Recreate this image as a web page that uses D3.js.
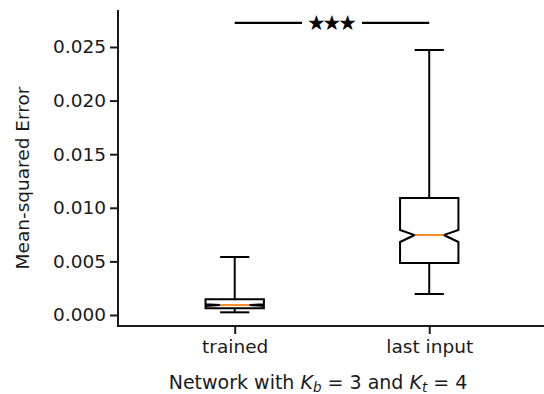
<!DOCTYPE html>
<html>
<head>
<meta charset="utf-8">
<style>
  body { margin: 0; background: white; }
  text { font-family: "DejaVu Sans", sans-serif; fill: #1a1a1a; }
</style>
</head>
<body>
<div id="chart"></div>
<script src="https://d3js.org/d3.v7.min.js"></script>
<script>
// box summaries
const categories = ["trained", "last input"];
const whiskerLow = [0.00025, 0.00196];
const q1 = [0.00062, 0.00485];
const median = [0.00093, 0.00746];
const q3 = [0.00146, 0.01091];
const whiskerHigh = [0.00541, 0.02472];
const notchLow = [0.00085, 0.00681];
const notchHigh = [0.00101, 0.00793];
const yTicks = [0, 0.005, 0.010, 0.015, 0.020, 0.025];
const sigLabel = "★★★";
const sigLevel = 0.02724;

const width = 544, height = 394;
const ink = "#1a1a1a";
const lw = 2;

const svg = d3.select("#chart").append("svg")
  .attr("width", width)
  .attr("height", height);

const x = d3.scaleLinear().domain([0.4, 2.59]).range([118, 544]);
const y = d3.scaleLinear().domain([-0.001026, 0.02845]).range([326, 10]);

// axes
const yAxis = d3.axisLeft(y).tickValues(yTicks).tickFormat(d3.format(".3f"))
  .tickSizeOuter(0).tickSize(8).tickPadding(4);
const xAxis = d3.axisBottom(x).tickValues([1, 2]).tickFormat((d) => categories[d - 1])
  .tickSizeOuter(0).tickSize(8).tickPadding(6);

const gy = svg.append("g").attr("transform", "translate(118,0)").call(yAxis);
const gx = svg.append("g").attr("transform", "translate(0,326)").call(xAxis);

[gx, gy].forEach((g) => {
  g.select(".domain").remove();
  g.selectAll(".tick line").attr("stroke", ink).attr("stroke-width", lw);
  g.selectAll(".tick text").attr("font-size", 18.5).attr("fill", ink)
    .style("font-family", "DejaVu Sans");
});

// spines
svg.append("path")
  .attr("d", `M${x.range()[0]},${y.range()[1]}V${y.range()[0]}H${x.range()[1]}`)
  .attr("fill", "none").attr("stroke", ink).attr("stroke-width", lw);

// boxes
const half = 0.15;
categories.forEach((c, i) => {
  const cx = i + 1;
  const L = x(cx - half), R = x(cx + half);
  const inset = (R - L) / 4;
  const g = svg.append("g");

  // whiskers
  g.append("line").attr("x1", x(cx)).attr("x2", x(cx))
    .attr("y1", y(q1[i])).attr("y2", y(whiskerLow[i]))
    .attr("stroke", "black").attr("stroke-width", lw);
  g.append("line").attr("x1", x(cx)).attr("x2", x(cx))
    .attr("y1", y(q3[i])).attr("y2", y(whiskerHigh[i]))
    .attr("stroke", "black").attr("stroke-width", lw);
  [whiskerLow[i], whiskerHigh[i]].forEach((v) => {
    g.append("line").attr("x1", x(cx - half / 2)).attr("x2", x(cx + half / 2))
      .attr("y1", y(v)).attr("y2", y(v))
      .attr("stroke", "black").attr("stroke-width", lw);
  });

  // notched box outline
  const pts = [
    [L, y(q1[i])], [R, y(q1[i])], [R, y(notchLow[i])], [R - inset, y(median[i])],
    [R, y(notchHigh[i])], [R, y(q3[i])], [L, y(q3[i])], [L, y(notchHigh[i])],
    [L + inset, y(median[i])], [L, y(notchLow[i])]
  ];
  g.append("path").attr("d", d3.line()(pts) + "Z")
    .attr("fill", "none").attr("stroke", "black").attr("stroke-width", lw)
    .attr("stroke-linejoin", "miter");

  g.append("line").attr("x1", L + inset).attr("x2", R - inset)
    .attr("y1", y(median[i])).attr("y2", y(median[i]))
    .attr("stroke", "#ff7f0e").attr("stroke-width", 1.8);
});

// significance bar
svg.append("line").attr("x1", x(1)).attr("x2", x(2))
  .attr("y1", y(sigLevel)).attr("y2", y(sigLevel))
  .attr("stroke", "black").attr("stroke-width", 2.2);
const mid = (x(1) + x(2)) / 2;
svg.append("rect").attr("x", mid - 30).attr("y", y(sigLevel) - 11)
  .attr("width", 60).attr("height", 22).attr("fill", "white");
svg.append("text").attr("x", mid).attr("y", y(sigLevel) + 6.5)
  .attr("text-anchor", "middle").attr("font-size", 17.5).attr("font-weight", "bold")
  .attr("stroke", "black").attr("stroke-width", 0.8)
  .style("fill", "black").text(sigLabel);

// axis labels
svg.append("text")
  .attr("transform", "translate(29,178) rotate(-90)")
  .attr("text-anchor", "middle").attr("font-size", 18.5)
  .text("Mean-squared Error");

const xl = svg.append("text").attr("x", 318).attr("y", 389)
  .attr("text-anchor", "middle").attr("font-size", 19);
xl.append("tspan").text("Network with ");
xl.append("tspan").attr("font-style", "italic").text("K");
xl.append("tspan").attr("font-style", "italic").attr("font-size", 13.5).attr("dy", 3).text("b");
xl.append("tspan").attr("dy", -3).text(" = 3 and ");
xl.append("tspan").attr("font-style", "italic").text("K");
xl.append("tspan").attr("font-style", "italic").attr("font-size", 13.5).attr("dy", 3).text("t");
xl.append("tspan").attr("dy", -3).text(" = 4");
</script>
</body>
</html>
